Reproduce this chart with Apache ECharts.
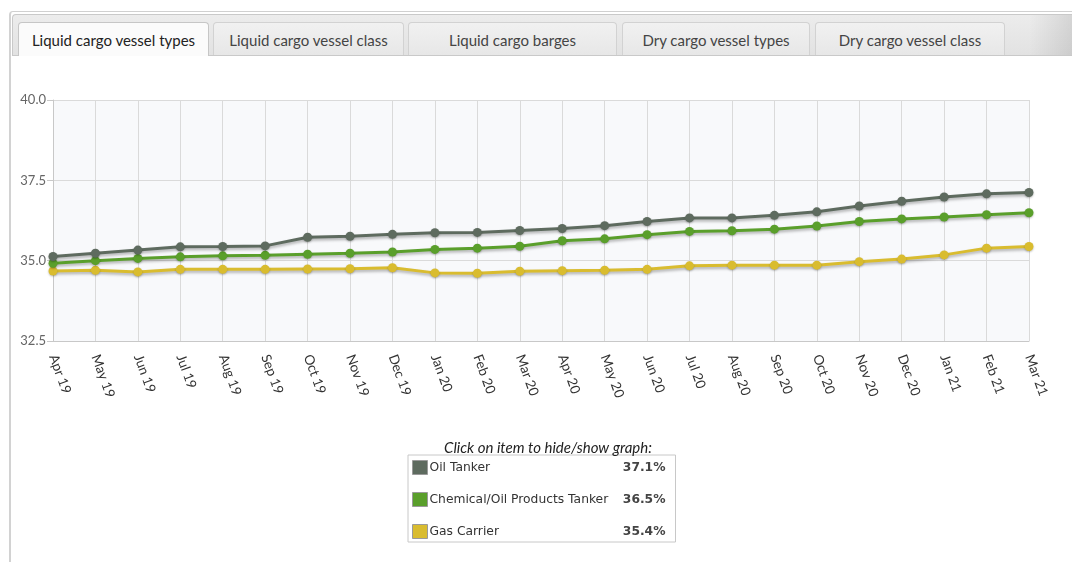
<!DOCTYPE html>
<html>
<head>
<meta charset="utf-8">
<script src="https://cdn.jsdelivr.net/npm/echarts@6/dist/echarts.min.js"></script>
<style>
  html, body { margin: 0; padding: 0; background: #fff; width: 1072px; height: 562px; overflow: hidden; }
  #panel { position: absolute; left: 9px; top: 11px; width: 1120px; height: 600px;
           border-left: 2px solid #d2d2d2; border-top: 1px solid #d0d0d0; border-radius: 4px 0 0 0; }
  #strip { position: absolute; left: 12px; top: 14px; width: 1070px; height: 40px;
           background: linear-gradient(to right, rgba(0,0,0,0) 0%, rgba(0,0,0,0) 95%, rgba(0,0,0,0.12) 100%),
                       linear-gradient(#ececec, #e2e2e2);
           border-top: 1px solid #c9c9c9; border-left: 1px solid #c9c9c9; border-bottom: 1px solid #c9c9c9;
           border-radius: 4px 0 0 0; }
  .tab { position: absolute; top: 22px; height: 33px; box-sizing: border-box;
         border: 1px solid #d2d2d2; border-bottom: none; border-radius: 4px 4px 0 0;
         background: linear-gradient(#f1f1f1, #e7e7e7);
         font-family: Lato, "Open Sans", sans-serif; font-size: 15px; color: #444;
         text-align: center; line-height: 34px; }
  .tab.active { background: #fbfbfb; color: #222; height: 34px; border-color: #c6c6c6; }
  #chart { position: absolute; left: 0; top: 0; width: 1072px; height: 562px; }
</style>
</head>
<body>
<div id="panel"></div>
<div id="strip"></div>
<div class="tab active" style="left:18px;width:191px;">Liquid cargo vessel types</div>
<div class="tab" style="left:213px;width:191px;">Liquid cargo vessel class</div>
<div class="tab" style="left:408px;width:209px;">Liquid cargo barges</div>
<div class="tab" style="left:622px;width:188px;">Dry cargo vessel types</div>
<div class="tab" style="left:815px;width:190px;">Dry cargo vessel class</div>
<div id="chart"></div>
<script>
const categories = ["Apr 19","May 19","Jun 19","Jul 19","Aug 19","Sep 19","Oct 19","Nov 19","Dec 19","Jan 20","Feb 20","Mar 20",
                    "Apr 20","May 20","Jun 20","Jul 20","Aug 20","Sep 20","Oct 20","Nov 20","Dec 20","Jan 21","Feb 21","Mar 21"];
const seriesNames = ["Oil Tanker", "Chemical/Oil Products Tanker", "Gas Carrier"];
const oilTanker = [35.13,35.23,35.33,35.43,35.44,35.46,35.73,35.76,35.82,35.87,35.88,35.94,
                   36.00,36.09,36.22,36.33,36.33,36.41,36.52,36.70,36.85,36.98,37.08,37.12];
const chemicalTanker = [34.92,35.00,35.07,35.12,35.15,35.17,35.20,35.23,35.27,35.35,35.39,35.45,
                        35.62,35.68,35.81,35.91,35.93,35.98,36.08,36.22,36.30,36.36,36.43,36.49];
const gasCarrier = [34.68,34.70,34.65,34.73,34.73,34.73,34.74,34.75,34.78,34.62,34.61,34.67,
                    34.69,34.70,34.73,34.84,34.86,34.86,34.86,34.97,35.05,35.18,35.39,35.44];
const legendValues = ["37.1%", "36.5%", "35.4%"];
const yTicks = { min: 32.5, max: 40.0, interval: 2.5 };
const colors = ["#5e6b5f", "#5a9f2b", "#d9bc2f"];

const allData = [oilTanker, chemicalTanker, gasCarrier];
const chart = echarts.init(document.getElementById('chart'), null, { renderer: 'canvas' });

const series = seriesNames.map((name, i) => ({
  name: name,
  type: 'line',
  data: allData[i],
  symbol: 'circle',
  symbolSize: 9,
  z: 10 - i,
  itemStyle: { color: colors[i], shadowColor: 'rgba(0,0,0,0.25)', shadowBlur: 2, shadowOffsetY: 1 },
  lineStyle: { width: 3, color: colors[i], shadowColor: 'rgba(0,0,0,0.3)', shadowBlur: 3, shadowOffsetY: 2 },
  animation: false
}));

chart.setOption({
  animation: false,
  title: {
    text: 'Click on item to hide/show graph:',
    left: 543, top: 436, textAlign: 'center',
    textStyle: { fontFamily: 'Lato', fontStyle: 'italic', fontWeight: 'normal', fontSize: 15, color: '#222' }
  },
  grid: { left: 53, right: 43, top: 100, bottom: 221, show: true, backgroundColor: '#f8f9fb', borderWidth: 0 },
  xAxis: {
    type: 'category',
    data: categories,
    boundaryGap: false,
    axisLine: { lineStyle: { color: '#c8c8c8', width: 1 } },
    axisTick: { show: false },
    splitLine: { show: true, lineStyle: { color: '#dadada', width: 1 } },
    axisLabel: { rotate: -70, interval: 0, margin: 14, fontFamily: 'Lato', fontSize: 13.5, color: '#333' }
  },
  yAxis: {
    type: 'value',
    min: yTicks.min, max: yTicks.max, interval: yTicks.interval,
    axisLine: { show: true, lineStyle: { color: '#c8c8c8' } },
    axisTick: { show: true, length: 6, lineStyle: { color: '#c8c8c8' } },
    splitLine: { show: true, lineStyle: { color: '#dadada' } },
    axisLabel: { formatter: v => v.toFixed(1), fontFamily: 'Lato', fontSize: 13, color: '#666', margin: 7 }
  },
  legend: {
    orient: 'vertical',
    left: 408, top: 455,
    padding: [5, 10, 3, 4],
    itemGap: 17,
    itemWidth: 15, itemHeight: 14,
    icon: 'rect',
    borderColor: '#c8c8c8', borderWidth: 1,
    selectedMode: true,
    data: seriesNames.map((n, i) => ({ name: n, itemStyle: { color: colors[i], borderColor: '#9a9a9a', borderWidth: 1 } })),
    formatter: name => {
      const i = seriesNames.indexOf(name);
      return '{n|' + name + '}{v|' + legendValues[i] + '}';
    },
    textStyle: {
      padding: [0, 0, 0, -3],
      rich: {
        n: { fontFamily: 'DejaVu Sans', fontSize: 12.3, color: '#333', width: 186, lineHeight: 14 },
        v: { fontFamily: 'DejaVu Sans', fontSize: 12.3, fontWeight: 'bold', color: '#444', width: 50, align: 'right', lineHeight: 14 }
      }
    }
  },
  series: series
});
</script>
</body>
</html>
